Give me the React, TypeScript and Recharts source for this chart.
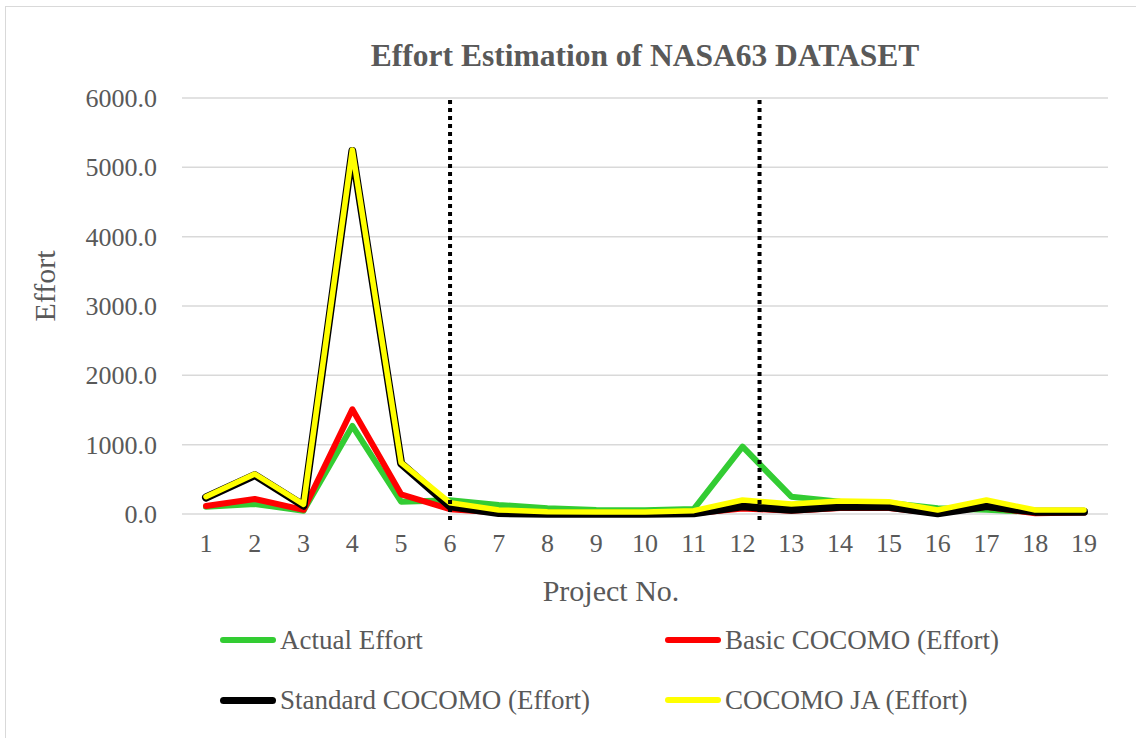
import { LineChart, Line, XAxis, YAxis, CartesianGrid, ReferenceLine } from 'recharts';

const projects = ['1', '2', '3', '4', '5', '6', '7', '8', '9', '10', '11', '12', '13', '14', '15', '16', '17', '18', '19'];

const actualEffort = [105, 145, 48, 1270, 178, 200, 130, 82, 58, 55, 72, 971, 250, 178, 160, 82, 60, 30, 40];
const basicCocomo = [115, 216, 60, 1510, 284, 70, 20, 10, 8, 8, 10, 80, 48, 85, 85, 10, 105, 10, 20];
const standardCocomo = [238, 562, 120, 5235, 730, 110, 14, 5, 5, 5, 10, 110, 60, 105, 105, 10, 115, 34, 34];
const cocomoJa = [250, 577, 140, 5250, 740, 163, 58, 34, 30, 30, 48, 202, 144, 188, 178, 58, 202, 58, 58];

const yTicks = [0, 1000, 2000, 3000, 4000, 5000, 6000];
// dotted dividers, in project-number units
const dividers = [6, 12.35];

const series = [
  { key: 'actual', name: 'Actual Effort', color: '#33CC33', width: 6 },
  { key: 'basic', name: 'Basic COCOMO (Effort)', color: '#FF0000', width: 6 },
  { key: 'standard', name: 'Standard COCOMO (Effort)', color: '#000000', width: 8 },
  { key: 'ja', name: 'COCOMO JA (Effort)', color: '#FFFF00', width: 5.5 },
];

const data = projects.map((p, i) => ({
  project: p,
  no: i + 1,
  actual: actualEffort[i],
  basic: basicCocomo[i],
  standard: standardCocomo[i],
  ja: cocomoJa[i],
}));

const font = '"Liberation Serif", "Times New Roman", serif';
const grey = '#595959';

const XTick = (props: any) => (
  <text x={props.x} y={props.y} dy={18} textAnchor="middle" fill={grey} style={{ fontFamily: font, fontSize: 26 }}>
    {props.payload.value}
  </text>
);

const YTick = (props: any) => (
  <text x={props.x} y={props.y} dy={9} textAnchor="end" fill={grey} style={{ fontFamily: font, fontSize: 26 }}>
    {Number(props.payload.value).toFixed(1)}
  </text>
);

const DottedLine = (props: any) => {
  const top = Math.min(props.y1, props.y2);
  const bottom = Math.max(props.y1, props.y2);
  return (
    <line
      x1={props.x1}
      y1={top + 2}
      x2={props.x2}
      y2={bottom + 8}
      stroke="#000"
      strokeWidth={4}
      strokeDasharray="4 4"
    />
  );
};

export default function App() {
  return (
    <div style={{ position: 'absolute', left: 0, top: 0, width: 1136, height: 738, overflow: 'hidden', background: '#fff', fontFamily: font }}>
      <div style={{ position: 'absolute', left: 5, top: 6, width: 1140, height: 740, border: '1.5px solid #d9d9d9' }} />
      <div style={{ position: 'absolute', left: 0, width: 1290, top: 38, textAlign: 'center', fontSize: 31.5, fontWeight: 'bold', color: grey, lineHeight: '36px' }}>
        Effort Estimation of NASA63 DATASET
      </div>
      <div style={{ position: 'absolute', left: 0, top: 0 }}>
        <LineChart width={1136} height={738} data={data} margin={{ top: 98, right: 28, left: 82, bottom: 134 }}>
          <CartesianGrid vertical={false} stroke="#d9d9d9" strokeWidth={1.5} />
          <XAxis
            dataKey="project"
            axisLine={false}
            tickLine={false}
            tickSize={0}
            tickMargin={20}
            height={90}
            padding={{ left: 24, right: 24 }}
            tick={<XTick />}
            label={{ value: 'Project No.', position: 'center', dx: -34, dy: 31, fill: grey, fontSize: 30, fontFamily: font }}
          />
          <XAxis xAxisId="pos" dataKey="no" type="number" domain={[0.5, 19.5]} allowDataOverflow hide />
          <YAxis
            domain={[0, 6000]}
            ticks={yTicks}
            width={100}
            axisLine={false}
            tickLine={false}
            tickSize={0}
            tickMargin={25}
            tick={<YTick />}
            label={{ value: 'Effort', angle: -90, position: 'center', dx: -88, dy: -20, fill: grey, fontSize: 30, fontFamily: font }}
          />
          {series.map((s) => (
            <Line
              key={s.key}
              dataKey={s.key}
              name={s.name}
              stroke={s.color}
              strokeWidth={s.width}
              strokeLinejoin="round"
              strokeLinecap="round"
              dot={false}
              activeDot={false}
              isAnimationActive={false}
            />
          ))}
          {dividers.map((d) => (
            <ReferenceLine key={d} xAxisId="pos" x={d} shape={DottedLine} ifOverflow="visible" />
          ))}
        </LineChart>
      </div>
      {series.map((s, i) => (
        <div
          key={s.key}
          style={{
            position: 'absolute',
            left: i % 2 === 0 ? 220 : 665,
            top: i < 2 ? 622 : 682,
            height: 36,
            display: 'flex',
            alignItems: 'center',
            fontSize: 27,
            color: grey,
            whiteSpace: 'nowrap',
          }}
        >
          <span style={{ display: 'inline-block', width: 56, height: s.key === 'standard' ? 7 : 5.5, background: s.color, borderRadius: 4, marginRight: 4 }} />
          {s.name}
        </div>
      ))}
    </div>
  );
}
